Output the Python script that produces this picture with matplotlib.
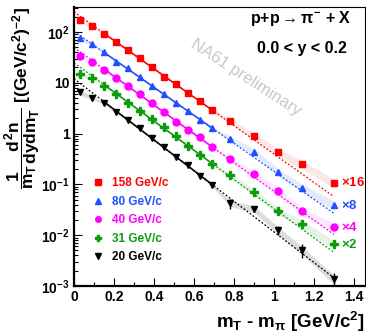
import numpy as np
import matplotlib
matplotlib.use('Agg')
from matplotlib import pyplot as plt
from matplotlib.ticker import MultipleLocator, LogLocator, FuncFormatter, NullFormatter
from matplotlib.lines import Line2D

plt.rcParams['font.family'] = ['Liberation Sans', 'DejaVu Sans']
plt.rcParams['font.weight'] = 'bold'
plt.rcParams['mathtext.fontset'] = 'custom'
plt.rcParams['mathtext.rm'] = 'Liberation Sans:bold'
plt.rcParams['mathtext.it'] = 'Liberation Sans:bold'
plt.rcParams['mathtext.bf'] = 'Liberation Sans:bold'
plt.rcParams['mathtext.sf'] = 'Liberation Sans:bold'

# m_T - m_pi bin centres [GeV/c^2]
x = [0.03, 0.09, 0.15, 0.21, 0.27, 0.33, 0.39, 0.45, 0.51, 0.57, 0.63, 0.69,
     0.78, 0.90, 1.02, 1.14, 1.30]

# spectra as drawn (already multiplied by the scale factor)
y158 = [171, 132, 91, 64, 44, 30.2, 20.1, 13.1, 9.4, 6.27, 4.42, 2.90, 1.79,
        0.89, 0.44, 0.248, 0.107]
y80 = [76.9, 57.0, 40.8, 25.9, 19.2, 13.1, 8.61, 5.91, 4.08, 2.77, 1.89, 1.28,
       0.80, 0.44, 0.177, 0.0857, 0.0391]
y40 = [33.5, 25.2, 17.8, 12.2, 8.61, 5.91, 4.04, 2.69, 1.71, 1.17, 0.84, 0.55,
       0.31, 0.160, 0.0748, 0.0294, 0.0144]
y31 = [14.6, 12.2, 8.61, 6.0, 4.04, 2.81, 1.93, 1.32, 0.89, 0.58, 0.377, 0.248,
       0.152, 0.0696, 0.0302, 0.0165, 0.0066]
y20 = [6.47, 5.07, 3.93, 2.61, 1.84, 1.27, 0.83, 0.55, 0.345, 0.24, 0.146,
       0.0969, 0.0423, 0.0331, 0.0126, 0.0051, 0.00135]

# relative errors
stat20 = [0, 0, 0, 0, 0, 0, 0, 0, 0, 0, 0, 0, 0.22, 0.12, 0.2, 0.3, 0.32]
sys_rel = [0.12, 0.08, 0.04, 0.04, 0.04, 0.04, 0.04, 0.04, 0.04, 0.04, 0.04,
           0.06, 0.12, 0.15, 0.16, 0.18, 0.2]

labels = ['158 GeV/c', '80 GeV/c', '40 GeV/c', '31 GeV/c', '20 GeV/c']
scales = ['16', '8', '4', '2', '']
colors = ['#ff0000', '#1f4fff', '#ff00ff', '#0c9c0c', '#000000']
bands = ['#fce6e6', '#e4eafc', '#fce6fc', '#e4f4e4', '#dcdcdc']
markers = ['s', '^', 'o', 'P', 'v']
msizes = [5.0, 5.0, 5.0, 5.5, 4.5]

fig = plt.figure(figsize=(3.66, 3.34), dpi=100)
ax = fig.add_axes([0.202, 0.1437, 0.795, 0.8353])

xa = np.array(x)
series = [y158, y80, y40, y31, y20]
for i, ys in enumerate(series):
    ya = np.array(ys)
    s = np.array(sys_rel)
    ax.fill_between(xa, ya * (1 - s), ya * (1 + s), color=bands[i], lw=0, zorder=1)
    # exponential fit over the central range
    sel = (xa > 0.18) & (xa < 0.72)
    p = np.polyfit(xa[sel], np.log10(ya[sel]), 1)
    xf = np.linspace(0, xa[-1], 100)
    ax.plot(xf, 10 ** np.polyval(p, xf), ls=(0, (1.5, 1.5)), color=colors[i], lw=0.9, zorder=2)
    xs = np.linspace(0.15, 0.7, 50)
    ax.plot(xs, 10 ** np.polyval(p, xs), ls='-', color=colors[i], lw=1.1, zorder=2)
    if i == 4:
        ax.errorbar(xa, ya, yerr=ya * np.array(stat20), fmt='none', ecolor='#000000',
                    elinewidth=1.0, capsize=0, zorder=3)
    ax.plot(xa, ya, ls='none', marker=markers[i], ms=msizes[i], color=colors[i],
            mec=colors[i], zorder=4)
    if scales[i]:
        ax.text(xa[-1] + 0.035, ya[-1], r'$\times$' + scales[i], color=colors[i],
                fontsize=9.5, fontweight='bold', va='center', ha='left')

ax.set_yscale('log')
ax.set_xlim(0, 1.455)
ax.set_ylim(1e-3, 310)

def yfmt(v, pos):
    e = int(round(np.log10(v)))
    if e == 0:
        return '1'
    if e == 1:
        return '10'
    return r'$10^{%d}$' % e

ax.yaxis.set_major_locator(LogLocator(base=10, numticks=10))
ax.yaxis.set_minor_locator(LogLocator(base=10, subs=np.arange(2, 10) * 1.0, numticks=20))
ax.yaxis.set_major_formatter(FuncFormatter(yfmt))
ax.yaxis.set_minor_formatter(NullFormatter())
ax.xaxis.set_major_locator(MultipleLocator(0.2))
ax.xaxis.set_minor_locator(MultipleLocator(0.1))
ax.xaxis.set_major_formatter(FuncFormatter(lambda v, p: '%g' % round(v, 1)))

ax.tick_params(which='both', direction='in', top=False, right=False, labelsize=10, width=0.8)
ax.tick_params(which='major', length=6)
ax.tick_params(which='minor', length=3)
ax.tick_params(axis='x', pad=3)
ax.tick_params(axis='y', pad=3)
for lab in ax.get_xticklabels() + ax.get_yticklabels():
    lab.set_fontweight('bold')
for sp in ['left', 'bottom']:
    ax.spines[sp].set_linewidth(1.6)
for sp in ['top', 'right']:
    ax.spines[sp].set_linewidth(0.8)

ax.set_xlabel(r'$m_T$ - $m_\pi$ [GeV/c$^2$]', fontsize=13.5, fontweight='bold', loc='right')
ax.set_ylabel(r'$\dfrac{1}{m_T}\dfrac{d^2n}{dydm_T}$ [(GeV/c$^2$)$^{-2}$]', fontsize=12.5,
              fontweight='bold', loc='top')
ax.yaxis.set_label_coords(-0.108, 1.0)
ax.xaxis.set_label_coords(1.0, -0.085)

handles = [Line2D([], [], ls='none', marker=markers[i], ms=4, color=colors[i])
           for i in range(5)]
leg = ax.legend(handles, labels, loc='upper left', bbox_to_anchor=(0.062, 0.39),
                frameon=False, handlelength=1.0, handletextpad=0.7,
                labelspacing=0.55, borderpad=0, borderaxespad=0, labelcolor=colors,
                prop={'weight': 'bold', 'size': 8.5})

fig.text(0.959, 0.946, r'p+p$\rightarrow\pi^{-}$ + X', fontsize=11.5, fontweight='bold',
         ha='right', va='center')
fig.text(0.948, 0.856, '0.0 < y < 0.2', fontsize=11.5, fontweight='bold',
         ha='right', va='center')
fig.text(0.672, 0.767, 'NA61 preliminary', fontsize=12, fontweight='normal',
         color='#c8c8c8', rotation=-33, ha='center', va='center')

fig.savefig('out.png', dpi=100)
